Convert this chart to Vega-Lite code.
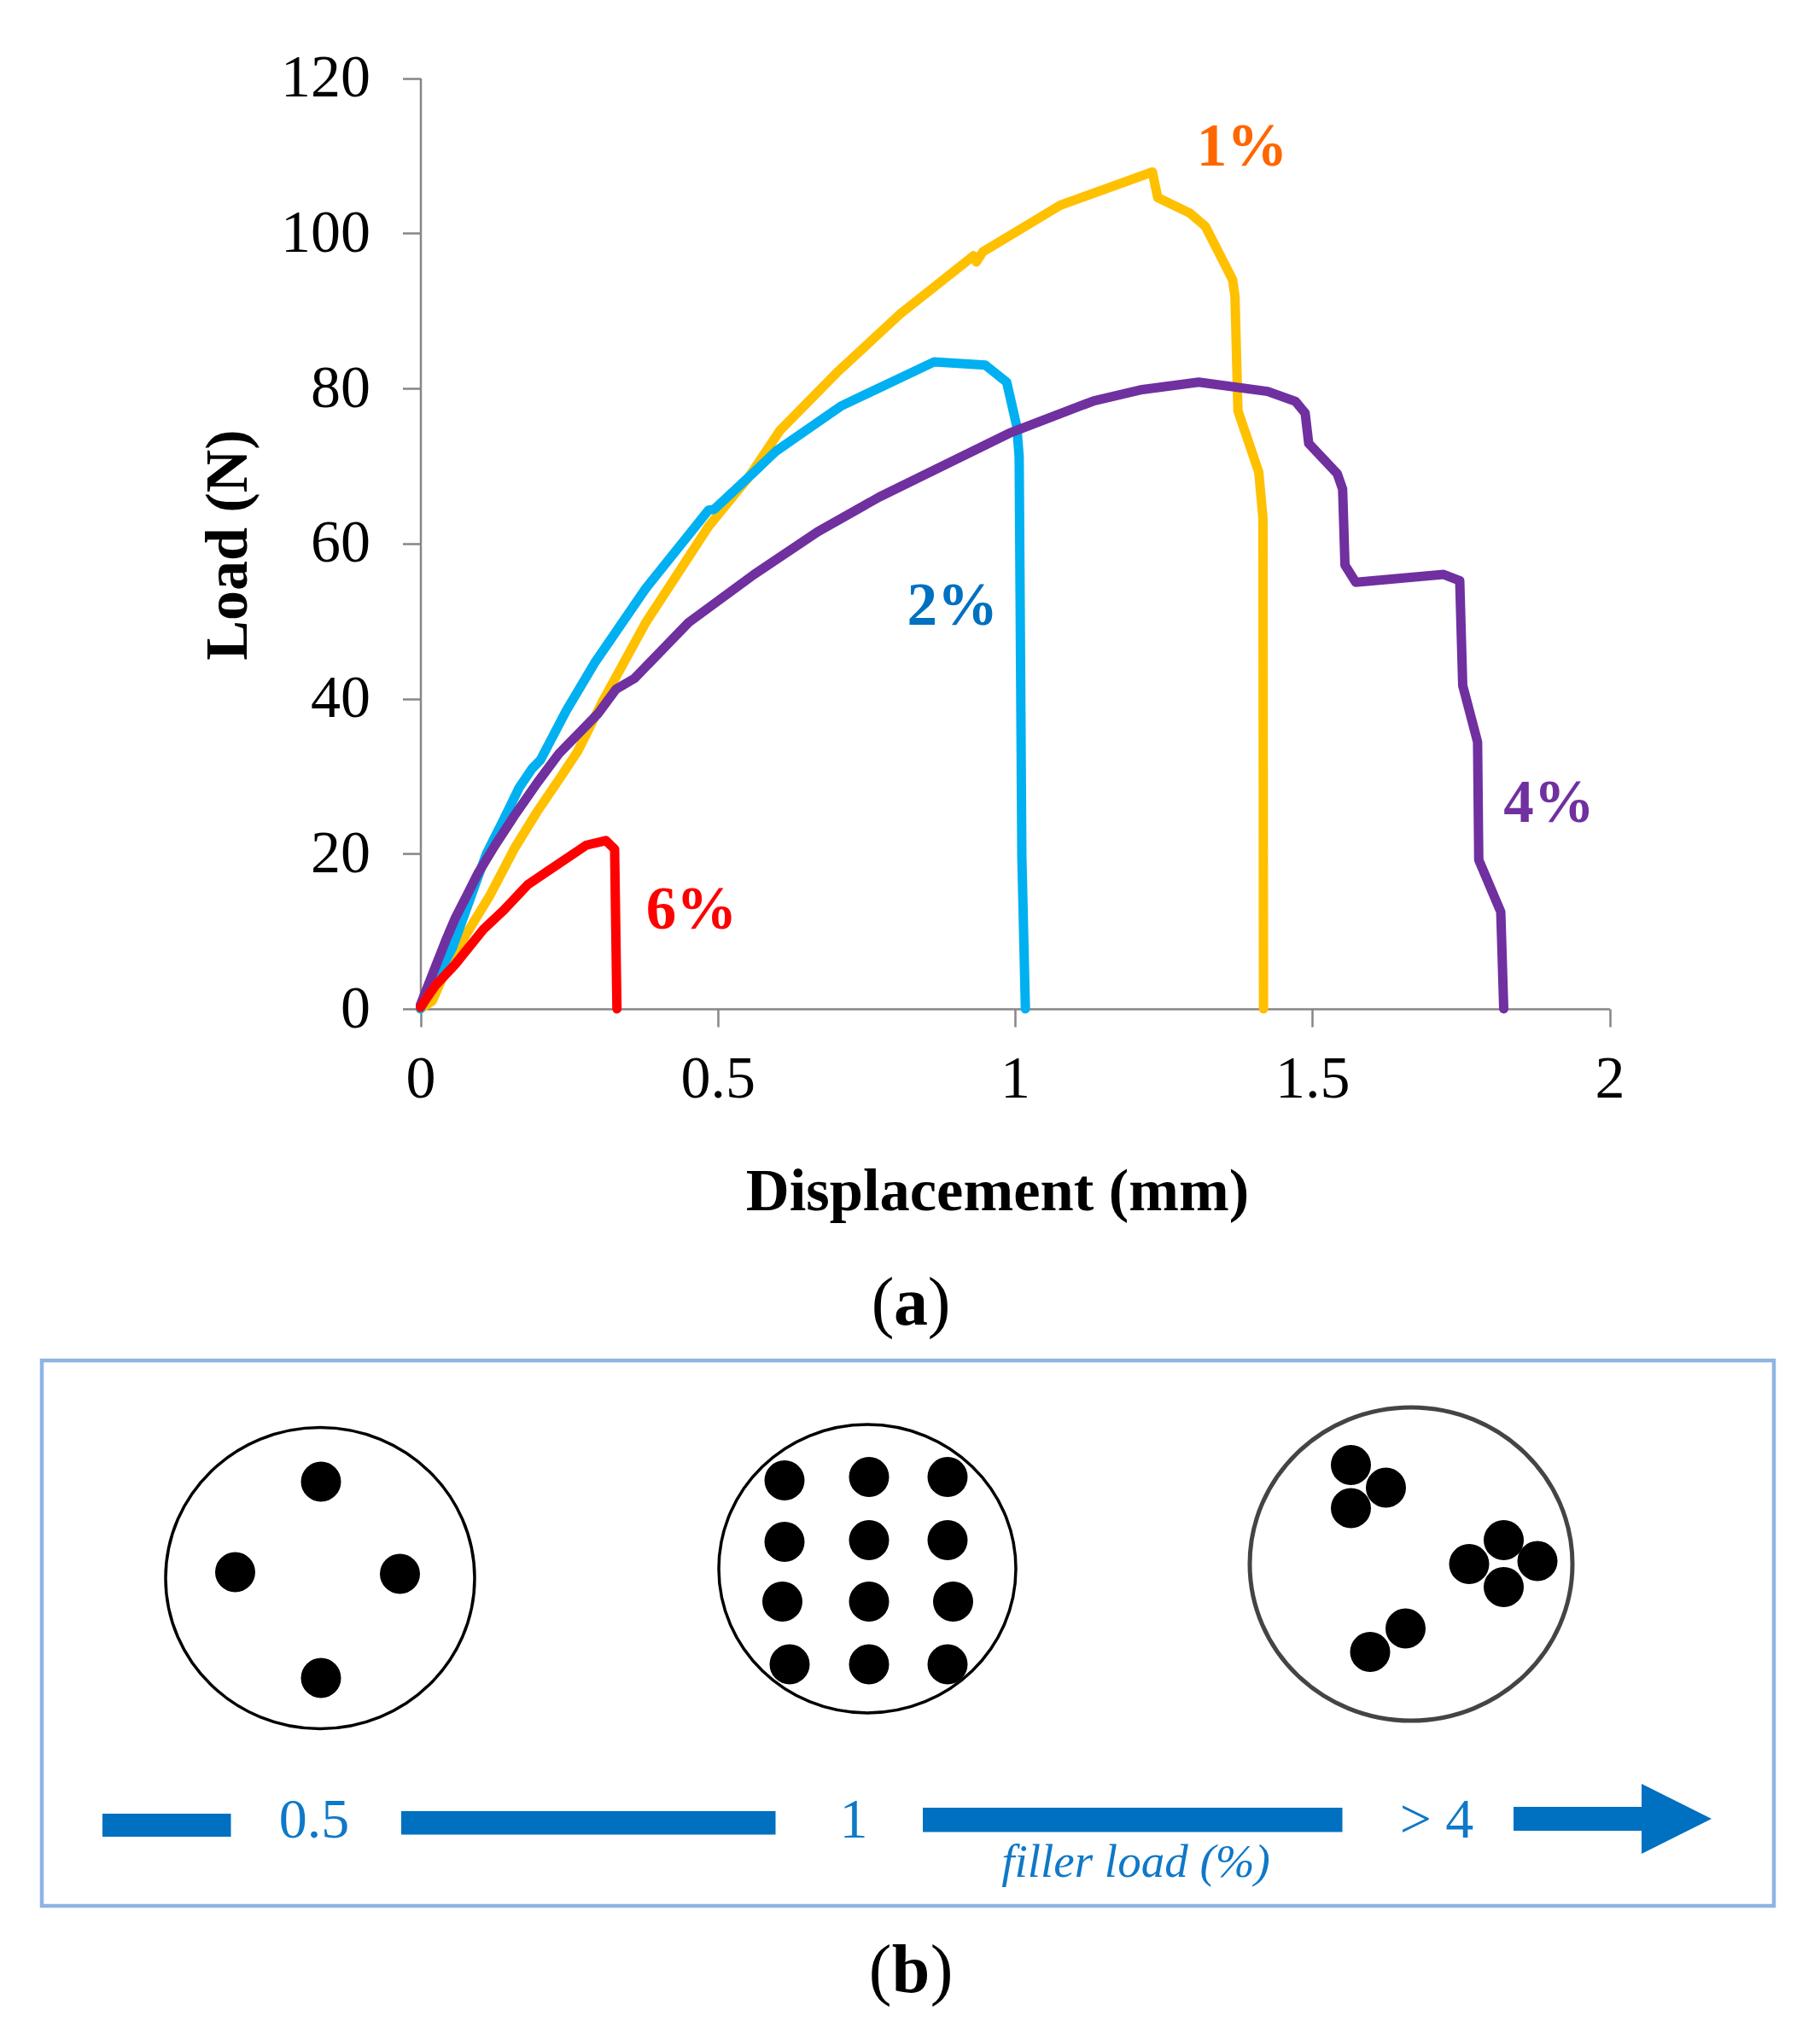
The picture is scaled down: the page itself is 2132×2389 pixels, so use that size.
{
  "$schema": "https://vega.github.io/schema/vega-lite/v6.json",
  "padding": 0,
  "background": "white",
  "spacing": 0,
  "bounds": "flush",
  "config": {
    "view": { "stroke": null },
    "text": { "font": "Liberation Serif" }
  },
  "datasets": {
    "curves": [
      {"series":"1%","displacement":0,"load":0},
      {"series":"1%","displacement":0.02,"load":1},
      {"series":"1%","displacement":0.049,"load":6.1},
      {"series":"1%","displacement":0.116,"load":14.5},
      {"series":"1%","displacement":0.159,"load":20.8},
      {"series":"1%","displacement":0.197,"load":25.5},
      {"series":"1%","displacement":0.236,"load":29.9},
      {"series":"1%","displacement":0.2645,"load":33.2},
      {"series":"1%","displacement":0.3075,"load":39.8},
      {"series":"1%","displacement":0.379,"load":49.8},
      {"series":"1%","displacement":0.4846,"load":62.2},
      {"series":"1%","displacement":0.5516,"load":68.5},
      {"series":"1%","displacement":0.605,"load":74.6},
      {"series":"1%","displacement":0.7,"load":82},
      {"series":"1%","displacement":0.807,"load":89.6},
      {"series":"1%","displacement":0.9305,"load":97.1},
      {"series":"1%","displacement":0.935,"load":96.3},
      {"series":"1%","displacement":0.946,"load":97.6},
      {"series":"1%","displacement":1.076,"load":103.6},
      {"series":"1%","displacement":1.231,"load":107.9},
      {"series":"1%","displacement":1.24,"load":104.6},
      {"series":"1%","displacement":1.294,"load":102.6},
      {"series":"1%","displacement":1.32,"load":100.9},
      {"series":"1%","displacement":1.366,"load":94},
      {"series":"1%","displacement":1.37,"load":91.8},
      {"series":"1%","displacement":1.375,"load":77.1},
      {"series":"1%","displacement":1.41,"load":69.2},
      {"series":"1%","displacement":1.417,"load":63.3},
      {"series":"1%","displacement":1.418,"load":0},
      {"series":"2%","displacement":0,"load":0},
      {"series":"2%","displacement":0.054,"load":7.9},
      {"series":"2%","displacement":0.111,"load":20},
      {"series":"2%","displacement":0.14,"load":24.4},
      {"series":"2%","displacement":0.166,"load":28.5},
      {"series":"2%","displacement":0.188,"load":31},
      {"series":"2%","displacement":0.202,"load":32.1},
      {"series":"2%","displacement":0.245,"load":38.4},
      {"series":"2%","displacement":0.293,"load":44.6},
      {"series":"2%","displacement":0.379,"load":54.2},
      {"series":"2%","displacement":0.4846,"load":64.3},
      {"series":"2%","displacement":0.494,"load":64.4},
      {"series":"2%","displacement":0.561,"load":69.2},
      {"series":"2%","displacement":0.598,"load":71.9},
      {"series":"2%","displacement":0.707,"load":77.7},
      {"series":"2%","displacement":0.8636,"load":83.4},
      {"series":"2%","displacement":0.95,"load":83},
      {"series":"2%","displacement":0.986,"load":80.8},
      {"series":"2%","displacement":1.003,"load":75.1},
      {"series":"2%","displacement":1.007,"load":71.2},
      {"series":"2%","displacement":1.0086,"load":53},
      {"series":"2%","displacement":1.0115,"load":19.7},
      {"series":"2%","displacement":1.0175,"load":0},
      {"series":"4%","displacement":0,"load":0.5},
      {"series":"4%","displacement":0.042,"load":8.7},
      {"series":"4%","displacement":0.058,"load":11.6},
      {"series":"4%","displacement":0.08,"load":14.9},
      {"series":"4%","displacement":0.097,"load":17.5},
      {"series":"4%","displacement":0.1256,"load":21.1},
      {"series":"4%","displacement":0.157,"load":24.8},
      {"series":"4%","displacement":0.197,"load":29.2},
      {"series":"4%","displacement":0.233,"load":32.9},
      {"series":"4%","displacement":0.298,"load":38},
      {"series":"4%","displacement":0.329,"load":41.2},
      {"series":"4%","displacement":0.36,"load":42.6},
      {"series":"4%","displacement":0.451,"load":49.8},
      {"series":"4%","displacement":0.561,"load":56},
      {"series":"4%","displacement":0.668,"load":61.5},
      {"series":"4%","displacement":0.772,"load":66},
      {"series":"4%","displacement":0.99,"load":74.2},
      {"series":"4%","displacement":1.133,"load":78.4},
      {"series":"4%","displacement":1.211,"load":79.8},
      {"series":"4%","displacement":1.309,"load":80.8},
      {"series":"4%","displacement":1.425,"load":79.6},
      {"series":"4%","displacement":1.472,"load":78.3},
      {"series":"4%","displacement":1.488,"load":76.8},
      {"series":"4%","displacement":1.494,"load":72.9},
      {"series":"4%","displacement":1.542,"load":69},
      {"series":"4%","displacement":1.551,"load":67},
      {"series":"4%","displacement":1.555,"load":57.2},
      {"series":"4%","displacement":1.573,"load":55},
      {"series":"4%","displacement":1.721,"load":56},
      {"series":"4%","displacement":1.748,"load":55.2},
      {"series":"4%","displacement":1.753,"load":41.7},
      {"series":"4%","displacement":1.778,"load":34.4},
      {"series":"4%","displacement":1.78,"load":19.2},
      {"series":"4%","displacement":1.817,"load":12.5},
      {"series":"4%","displacement":1.822,"load":0},
      {"series":"6%","displacement":0,"load":0.2},
      {"series":"6%","displacement":0.025,"load":3},
      {"series":"6%","displacement":0.058,"load":5.7},
      {"series":"6%","displacement":0.1065,"load":10.3},
      {"series":"6%","displacement":0.14,"load":12.7},
      {"series":"6%","displacement":0.1806,"load":16},
      {"series":"6%","displacement":0.1975,"load":16.9},
      {"series":"6%","displacement":0.279,"load":21.1},
      {"series":"6%","displacement":0.312,"load":21.7},
      {"series":"6%","displacement":0.3266,"load":20.6},
      {"series":"6%","displacement":0.3305,"load":0}
    ],
    "curveLabels": [
      {"label":"1%","displacement":1.382,"load":111},
      {"label":"2%","displacement":0.895,"load":51.8},
      {"label":"4%","displacement":1.898,"load":26.4},
      {"label":"6%","displacement":0.456,"load":12.6}
    ],
    "bars": [
      {"x":120,"x2":270.5,"y":2125,"y2":2152},
      {"x":470,"x2":908.5,"y":2122,"y2":2149.5},
      {"x":1081,"x2":1572.5,"y":2118,"y2":2146.5},
      {"x":1773,"x2":1925,"y":2117,"y2":2145}
    ],
    "dots": [
      {"x":376,"y":1736},{"x":275.5,"y":1842},{"x":468.5,"y":1844},{"x":376,"y":1966},
      {"x":919,"y":1734.5},{"x":1018,"y":1730.5},{"x":1110,"y":1730.5},
      {"x":919,"y":1806.5},{"x":1018,"y":1804.5},{"x":1110,"y":1804.5},
      {"x":916.5,"y":1876.5},{"x":1018,"y":1876.5},{"x":1116.5,"y":1876.5},
      {"x":925,"y":1950},{"x":1018,"y":1950},{"x":1110,"y":1950},
      {"x":1582.5,"y":1716.5},{"x":1623.5,"y":1743},{"x":1582.5,"y":1767},
      {"x":1761.5,"y":1804.5},{"x":1721,"y":1832.5},{"x":1801,"y":1829},{"x":1761.5,"y":1859.5},
      {"x":1646.5,"y":1908},{"x":1605,"y":1935.5}
    ],
    "fillerLevels": [
      {"text":"0.5","x":368,"y":2133},
      {"text":"1","x":1000,"y":2133},
      {"text":"> 4","x":1683,"y":2133}
    ]
  },
  "vconcat": [
    {
      "width": 2132,
      "height": 1182,
      "resolve": { "scale": { "color": "independent" } },
      "encoding": {
        "x": {
          "field": "displacement",
          "type": "quantitative",
          "title": "Displacement (mm)",
          "scale": { "domain": [0, 2], "range": [492.5, 1885.5] },
          "axis": {
            "values": [0, 0.5, 1, 1.5, 2],
            "format": "~g",
            "grid": false,
            "domainColor": "#868686",
            "domainWidth": 2.5,
            "tickColor": "#868686",
            "tickWidth": 2.5,
            "tickSize": 21,
            "labelFont": "Liberation Serif",
            "labelFontSize": 70,
            "labelColor": "black",
            "labelPadding": 27,
            "labelFlush": false,
            "labelOverlap": false,
            "titleFont": "Liberation Serif",
            "titleFontWeight": "bold",
            "titleFontSize": 70.5,
            "titleColor": "black",
            "titleBaseline": "middle",
            "titleX": 1168,
            "titleY": 214
          }
        },
        "y": {
          "field": "load",
          "type": "quantitative",
          "title": "Load (N)",
          "scale": { "domain": [0, 120], "range": [1182, 91.5] },
          "axis": {
            "values": [0, 20, 40, 60, 80, 100, 120],
            "offset": -492.5,
            "grid": false,
            "domainColor": "#868686",
            "domainWidth": 2.5,
            "tickColor": "#868686",
            "tickWidth": 2.5,
            "tickSize": 21,
            "labelFont": "Liberation Serif",
            "labelFontSize": 70,
            "labelColor": "black",
            "labelPadding": 38,
            "labelFlush": false,
            "labelOverlap": false,
            "titleFont": "Liberation Serif",
            "titleFontWeight": "bold",
            "titleFontSize": 70,
            "titleColor": "black",
            "titleBaseline": "middle",
            "titleX": -225,
            "titleY": 638
          }
        }
      },
      "layer": [
        {
          "data": { "name": "curves" },
          "mark": { "type": "line", "strokeWidth": 11, "strokeCap": "round", "strokeJoin": "round" },
          "encoding": {
            "order": null,
            "color": {
              "field": "series",
              "type": "nominal",
              "legend": null,
              "scale": {
                "domain": ["1%", "2%", "4%", "6%"],
                "range": ["#ffc000", "#00b0f0", "#7030a0", "#ff0000"]
              }
            }
          }
        },
        {
          "data": { "name": "curveLabels" },
          "mark": { "type": "text", "fontSize": 71, "fontWeight": "bold", "font": "Liberation Serif", "align": "center", "baseline": "middle" },
          "encoding": {
            "text": { "field": "label", "type": "nominal" },
            "color": {
              "field": "label",
              "type": "nominal",
              "legend": null,
              "scale": {
                "domain": ["1%", "2%", "4%", "6%"],
                "range": ["#ff6600", "#0070c0", "#7030a0", "#ff0000"]
              }
            }
          }
        }
      ]
    },
    {
      "width": 2132,
      "height": 1207,
      "encoding": {
        "x": { "field": "x", "type": "quantitative", "scale": { "domain": [0, 2132] }, "axis": null },
        "y": { "field": "y", "type": "quantitative", "scale": { "domain": [2389, 1182] }, "axis": null }
      },
      "layer": [
        {
          "data": { "values": [ { "x": 49, "x2": 2078, "y": 1594, "y2": 2233 } ] },
          "mark": { "type": "rect", "filled": false, "stroke": "#8eb4e3", "strokeWidth": 4.5 },
          "encoding": {
            "x2": { "field": "x2" },
            "y2": { "field": "y2" }
          }
        },
        {
          "data": { "values": [ { "x": 375, "y": 1849 } ] },
          "mark": { "type": "point", "shape": "M -1 0 A 1 0.975 0 1 1 1 0 A 1 0.975 0 1 1 -1 0 Z", "filled": false, "size": 131044, "stroke": "black", "strokeWidth": 3.5, "opacity": 1 }
        },
        {
          "data": { "values": [ { "x": 1016, "y": 1838 } ] },
          "mark": { "type": "point", "shape": "M -1 0 A 1 0.971 0 1 1 1 0 A 1 0.971 0 1 1 -1 0 Z", "filled": false, "size": 121104, "stroke": "black", "strokeWidth": 3.5, "opacity": 1 }
        },
        {
          "data": { "values": [ { "x": 1653, "y": 1832.5 } ] },
          "mark": { "type": "point", "shape": "M -1 0 A 1 0.971 0 1 1 1 0 A 1 0.971 0 1 1 -1 0 Z", "filled": false, "size": 142884, "stroke": "#444444", "strokeWidth": 5, "opacity": 1 }
        },
        {
          "data": { "name": "dots" },
          "mark": { "type": "circle", "size": 2209, "color": "black", "opacity": 1 }
        },
        {
          "data": { "name": "bars" },
          "mark": { "type": "rect", "color": "#0070c0" },
          "encoding": {
            "x2": { "field": "x2" },
            "y2": { "field": "y2" }
          }
        },
        {
          "data": { "values": [ { "x": 1964, "y": 2131 } ] },
          "mark": { "type": "point", "shape": "M -1 -1 L 1 0 L -1 1 Z", "size": 6724, "filled": true, "color": "#0070c0", "opacity": 1 }
        },
        {
          "data": { "name": "fillerLevels" },
          "mark": { "type": "text", "fontSize": 66, "font": "Liberation Serif", "color": "#0f78c8", "align": "center", "baseline": "middle" },
          "encoding": { "text": { "field": "text", "type": "nominal" } }
        },
        {
          "data": { "values": [ { "text": "filler load (%)", "x": 1330.5, "y": 2182 } ] },
          "mark": { "type": "text", "fontSize": 55, "fontStyle": "italic", "font": "Liberation Serif", "color": "#0f78c8", "align": "center", "baseline": "middle" },
          "encoding": { "text": { "field": "text", "type": "nominal" } }
        },
        {
          "data": { "values": [
            { "text": "(", "x": 1034, "y": 1528 },
            { "text": ")", "x": 1100, "y": 1528 },
            { "text": "(", "x": 1031, "y": 2310 },
            { "text": ")", "x": 1103, "y": 2310 }
          ] },
          "mark": { "type": "text", "fontSize": 80, "font": "Liberation Serif", "color": "black", "align": "center", "baseline": "middle" },
          "encoding": { "text": { "field": "text", "type": "nominal" } }
        },
        {
          "data": { "values": [
            { "text": "a", "x": 1067, "y": 1528 },
            { "text": "b", "x": 1067, "y": 2310 }
          ] },
          "mark": { "type": "text", "fontSize": 80, "fontWeight": "bold", "font": "Liberation Serif", "color": "black", "align": "center", "baseline": "middle" },
          "encoding": { "text": { "field": "text", "type": "nominal" } }
        }
      ]
    }
  ]
}
